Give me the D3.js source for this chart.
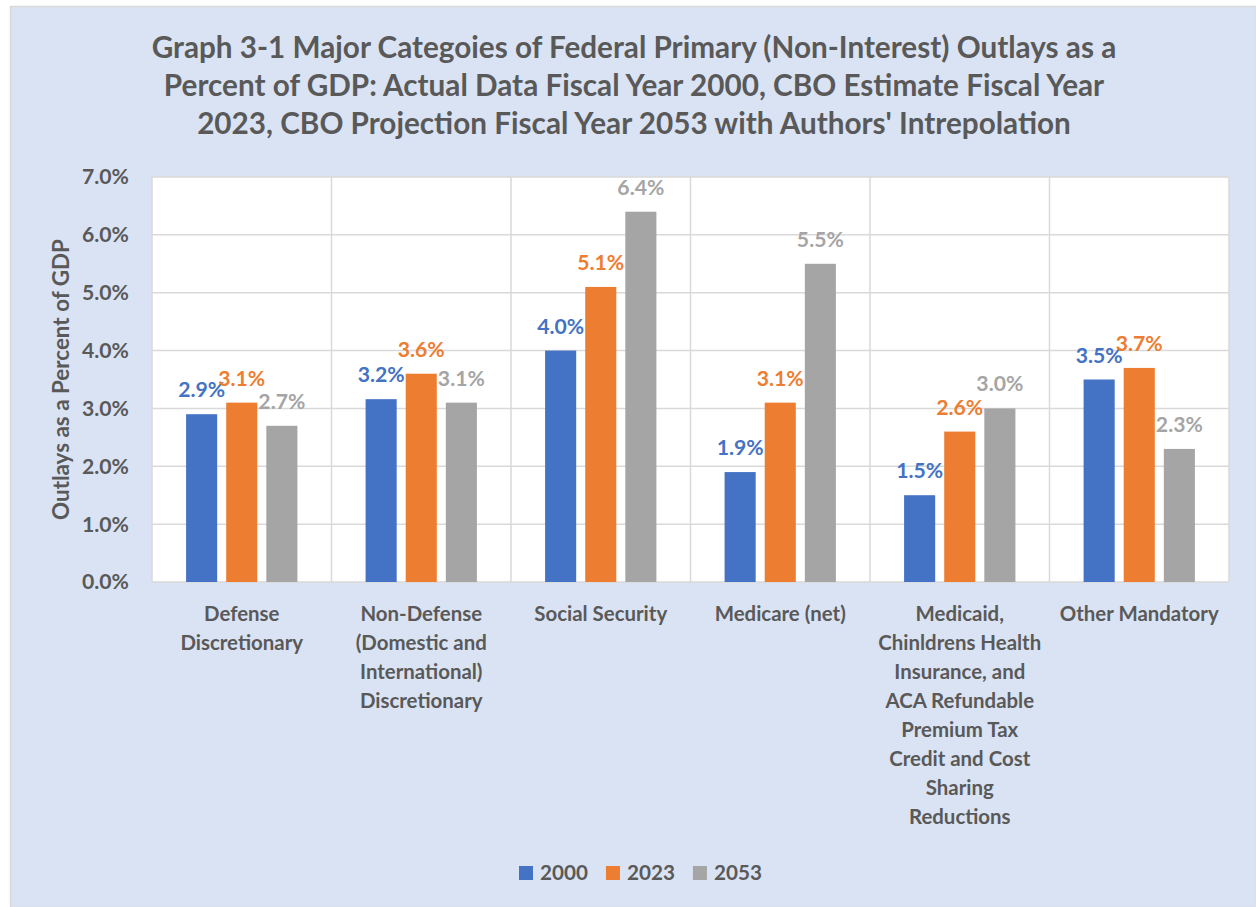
<!DOCTYPE html>
<html>
<head>
<meta charset="utf-8">
<script src="https://cdn.jsdelivr.net/npm/d3@7"></script>
<style>
  body { margin: 0; background: #fff; }
  svg text { font-family: Lato, "Open Sans", sans-serif; font-weight: bold; fill: #595959; }
</style>
</head>
<body>
<div id="chart"></div>
<script>
// data
var categories = [
  "Defense\nDiscretionary",
  "Non-Defense\n(Domestic and\nInternational)\nDiscretionary",
  "Social Security",
  "Medicare (net)",
  "Medicaid,\nChinldrens Health\nInsurance, and\nACA Refundable\nPremium Tax\nCredit and Cost\nSharing\nReductions",
  "Other Mandatory"
];
var seriesNames = ["2000", "2023", "2053"];
var values2000 = [0.029, 0.0316, 0.040, 0.019, 0.015, 0.035];
var values2023 = [0.031, 0.036, 0.051, 0.031, 0.026, 0.037];
var values2053 = [0.027, 0.031, 0.064, 0.055, 0.030, 0.023];
var yTicks = [0, 0.01, 0.02, 0.03, 0.04, 0.05, 0.06, 0.07];
var colors = ["#4472c4", "#ed7d31", "#a5a5a5"];
var titleLines = [
  "Graph 3-1 Major Categoies of Federal Primary (Non-Interest) Outlays as a",
  "Percent of GDP: Actual Data Fiscal Year 2000, CBO Estimate Fiscal Year",
  "2023, CBO Projection Fiscal Year 2053 with Authors' Intrepolation"
];

var allValues = [values2000, values2023, values2053];

var W = 1256, H = 907;
var plot = {left: 152, right: 1229, top: 177, bottom: 582};

var svg = d3.select("#chart").append("svg")
    .attr("width", W)
    .attr("height", H);

// font size so that a sample text gets a given width
function fitSize(text, target) {
  var t = svg.append("text").attr("font-size", 20).text(text);
  var w = t.node().getComputedTextLength();
  t.remove();
  return 20 * target / w;
}

// chart area
svg.append("rect")
    .attr("x", 10.5).attr("y", 6.5)
    .attr("width", W - 10).attr("height", H - 6)
    .attr("fill", "#dae3f3")
    .attr("stroke", "#d9d9d9")
    .attr("stroke-width", 1.5);

var x0 = d3.scaleBand()
    .domain(categories)
    .range([plot.left, plot.right])
    .padding(0);

var x1 = d3.scaleBand()
    .domain(seriesNames)
    .range([0, x0.bandwidth()])
    .paddingInner(0.225)
    .paddingOuter(0.85);

var y = d3.scaleLinear()
    .domain([0, 0.07])
    .range([plot.bottom, plot.top]);

// plot background
svg.append("rect")
    .attr("x", plot.left).attr("y", plot.top)
    .attr("width", plot.right - plot.left)
    .attr("height", plot.bottom - plot.top)
    .attr("fill", "#fff");

// horizontal gridlines
svg.append("g")
    .selectAll("line")
    .data(yTicks)
    .enter()
    .append("line")
    .attr("x1", plot.left).attr("x2", plot.right)
    .attr("y1", function(d) { return y(d); })
    .attr("y2", function(d) { return y(d); })
    .attr("stroke", "#d9d9d9")
    .attr("stroke-width", 1.5);

// vertical gridlines at category boundaries
var bounds = categories.map(function(c) { return x0(c); }).concat([plot.right]);
svg.append("g")
    .selectAll("line")
    .data(bounds)
    .enter()
    .append("line")
    .attr("x1", function(d) { return d; })
    .attr("x2", function(d) { return d; })
    .attr("y1", plot.top).attr("y2", plot.bottom)
    .attr("stroke", "#d9d9d9")
    .attr("stroke-width", 1.5);

// bars
var labelSize = fitSize("2.9%", 47);
seriesNames.forEach(function(s, i) {
  var g = svg.append("g");
  g.selectAll("rect")
      .data(allValues[i])
      .enter()
      .append("rect")
      .attr("x", function(d, j) { return x0(categories[j]) + x1(s); })
      .attr("y", function(d) { return y(d); })
      .attr("width", x1.bandwidth())
      .attr("height", function(d) { return y(0) - y(d); })
      .attr("fill", colors[i]);

  g.selectAll("text")
      .data(allValues[i])
      .enter()
      .append("text")
      .attr("x", function(d, j) { return x0(categories[j]) + x1(s) + x1.bandwidth() / 2; })
      .attr("y", function(d) { return y(d) - 17; })
      .attr("text-anchor", "middle")
      .attr("font-size", labelSize)
      .style("fill", colors[i])
      .text(function(d) { return d3.format(".1%")(d); });
});

// y axis tick labels
var tickSize = fitSize("7.0%", 47);
svg.append("g")
    .selectAll("text")
    .data(yTicks)
    .enter()
    .append("text")
    .attr("x", 129)
    .attr("y", function(d) { return y(d); })
    .attr("dy", "0.35em")
    .attr("text-anchor", "end")
    .attr("font-size", tickSize)
    .text(function(d) { return d3.format(".1%")(d); });

// y axis title
svg.append("text")
    .attr("transform", "translate(69," + ((plot.top + plot.bottom) / 2) + ") rotate(-90)")
    .attr("text-anchor", "middle")
    .attr("font-size", fitSize("Outlays as a Percent of GDP", 281))
    .text("Outlays as a Percent of GDP");

// category labels
var catSize = fitSize("Social Security", 133);
svg.append("g")
    .selectAll("text")
    .data(categories)
    .enter()
    .append("text")
    .attr("x", function(d) { return x0(d) + x0.bandwidth() / 2; })
    .attr("y", 621)
    .attr("text-anchor", "middle")
    .attr("font-size", catSize)
    .each(function(d) {
      var t = d3.select(this);
      d.split("\n").forEach(function(line, k) {
        t.append("tspan")
            .attr("x", x0(d) + x0.bandwidth() / 2)
            .attr("y", 621 + k * 29)
            .text(line);
      });
    });

// title
var titleSize = fitSize(titleLines[0], 965);
svg.append("g")
    .selectAll("text")
    .data(titleLines)
    .enter()
    .append("text")
    .attr("x", 634)
    .attr("y", function(d, i) { return 58 + i * 38; })
    .attr("text-anchor", "middle")
    .attr("font-size", titleSize)
    .text(function(d) { return d; });

// legend
var legSize = fitSize("2000", 48);
var legend = svg.append("g");
var lx = 519;
seriesNames.forEach(function(s, i) {
  legend.append("rect")
      .attr("x", lx).attr("y", 866)
      .attr("width", 14).attr("height", 14)
      .attr("fill", colors[i]);
  var t = legend.append("text")
      .attr("x", lx + 21).attr("y", 873)
      .attr("dy", "0.35em")
      .attr("font-size", legSize)
      .text(s);
  lx += 21 + t.node().getComputedTextLength() + 18;
});
</script>
</body>
</html>
